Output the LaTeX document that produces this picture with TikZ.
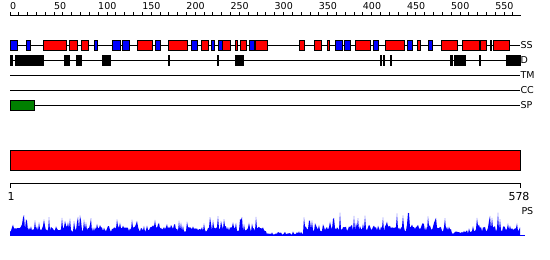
\documentclass[tikz,border=0pt]{standalone}
\usepackage{fontspec}
\setmainfont{DejaVu Sans}
\begin{document}
\begin{tikzpicture}[x=1pt,y=-1pt,line width=1pt,
  lbl/.style={inner sep=0pt,font=\fontsize{9.5}{10}\selectfont},
  num/.style={inner sep=0pt,font=\fontsize{9.5}{10}\selectfont},
  bignum/.style={inner sep=0pt,font=\fontsize{11}{12}\selectfont},
  helix/.style={draw=black,fill=red,line width=0.8pt},
  strand/.style={draw=black,fill=blue,line width=0.8pt},
  dom/.style={draw=black,fill=black,line width=0.8pt},
  declare function={env(\x)=ifthenelse(and(\x>266,\x<304),0.2,ifthenelse(and(\x>450,\x<476),0.45,ifthenelse(\x>304,1.1,1)));}]
\useasboundingbox (0,0) rectangle (550,260);
% top ruler
\coordinate (r0) at (10,15);
\coordinate (r1) at (521,15);
\draw (r0) -- (r1);
\foreach \u in {0,10,...,570} \draw ({10+\u*0.88235},15) -- ({10+\u*0.88235},12);
\foreach \u in {0,50,...,550} \node[num,anchor=west] (t\u) at ({9.5+\u*0.88235},6) {\u};
% tracks
\node[lbl,anchor=west] (ss) at (520,45) {SS};
\node[lbl,anchor=west] (d) at (520,60) {D};
\node[lbl,anchor=west] (tm) at (520,75) {TM};
\node[lbl,anchor=west] (cc) at (520,90) {CC};
\node[lbl,anchor=west] (sp) at (520,105) {SP};
\coordinate (s0) at (10,45);
\coordinate (d0) at (10,60);
\coordinate (m0) at (10,75);
\coordinate (c0) at (10,90);
\coordinate (p0) at (10,105);
\draw (s0) -- (ss.west);
\draw (d0) -- (d.west);
\draw (m0) -- (tm.west);
\draw (c0) -- (cc.west);
\draw (p0) -- (sp.west);
\foreach \a/\b in {10.3/17.3,26.7/30.7,94.5/97.3,112.5/120.5,122.3/129.7,155.3/160.5,191.3/197.3,211.3/214.3,218.3/222,249.3/254,335.2/342.7,344.3/350.7,373.7/378.5,407.3/412.5,428.7/432.5}
  \draw[strand] (\a,40) rectangle (\b,50);
\foreach \a/\b in {43.3/66.2,69.3/77.5,81.3/88.3,137.3/152.5,168.3/187.5,201.3/208.7,222/230.5,235/237.5,240.3/246,255.2/267.7,299.2/304.7,314.5/321.7,327.2/329.7,355.3/370.7,385.3/404,417/420.7,441.2/457.5,462.7/479,480.2/486.7,490/491,493.3/509}
  \draw[helix] (\a,40) rectangle (\b,50);
\foreach \a/\b in {10.3/12.3,15/43.7,64/69.7,76/81,102/110,168.7/169.7,217/218.3,235/243,380/381.7,383/384.3,390/391.3,450/452.5,454.5/465.7,479.3/480.7,506/520}
  \draw[dom] (\a,55) rectangle (\b,65);
\draw[draw=black,fill=green!50!black,line width=0.8pt] (10.3,100) rectangle (34.7,110.5);
% full-length bar
\draw[draw=black,fill=red,line width=0.8pt] (10,150) rectangle (520,170);
% bottom ruler
\coordinate (b0) at (10,183);
\coordinate (b1) at (520,183);
\draw (b0) -- (b1);
\draw (b0) -- ++(0,5);
\draw (b1) -- ++(0,5);
\node[bignum] (one) at (11,196) {1};
\node[bignum] (len) at (519,196) {578};
\node[lbl,anchor=west] (ps) at (521,211) {PS};
% profile
\pgfmathsetseed{5}
\fill[blue] (10,235) \foreach \x in {10,11,...,520} { -- (\x,{235-env(\x)*(3+5*rnd+14*rnd^5)}) } -- (520,235) -- cycle;
\coordinate (pb0) at (10,235);
\coordinate (pb1) at (525,235);
\draw[blue,line width=0.8pt] (pb0) -- (pb1);
\end{tikzpicture}
\end{document}
